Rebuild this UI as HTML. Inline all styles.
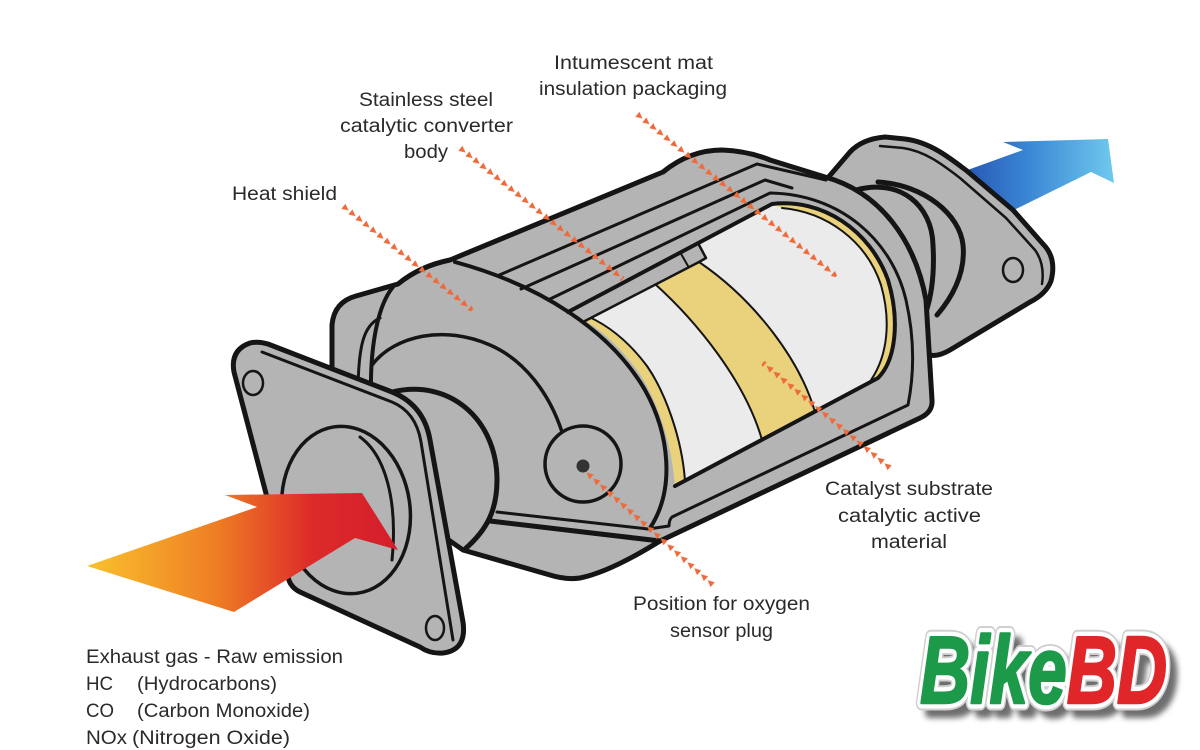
<!DOCTYPE html>
<html>
<head>
<meta charset="utf-8">
<style>
html,body{margin:0;padding:0;background:#fff;}
body{width:1200px;height:750px;overflow:hidden;}
svg{display:block;}
</style>
</head>
<body>
<svg width="1200" height="750" viewBox="0 0 1200 750" xmlns="http://www.w3.org/2000/svg">
<defs>
  <linearGradient id="gBlue" x1="940" y1="0" x2="1115" y2="0" gradientUnits="userSpaceOnUse">
    <stop offset="0" stop-color="#1f44a6"/>
    <stop offset="0.5" stop-color="#3a86d4"/>
    <stop offset="1" stop-color="#6fcaee"/>
  </linearGradient>
  <linearGradient id="gRed" x1="87" y1="0" x2="398" y2="0" gradientUnits="userSpaceOnUse">
    <stop offset="0" stop-color="#f9c22c"/>
    <stop offset="0.42" stop-color="#ee7d24"/>
    <stop offset="0.72" stop-color="#dd2b2a"/>
    <stop offset="1" stop-color="#d41e2c"/>
  </linearGradient>
  <pattern id="tri" patternUnits="userSpaceOnUse" x="0" y="-3.5" width="9" height="7">
    <polygon points="0.5,0.3 7.2,3.5 0.5,6.7" fill="#ee6a3a"/>
  </pattern>
  <filter id="blur" x="-20%" y="-20%" width="140%" height="140%">
    <feGaussianBlur stdDeviation="3"/>
  </filter>
</defs>

<!-- outlet blue arrow -->
<polygon points="940,180 1023,150 1003,142 1108,139 1114,183 1091,172 1010,212 990,222" fill="url(#gBlue)"/>

<g stroke="#151515" stroke-linejoin="round" stroke-linecap="round">
  <!-- outlet flange -->
  <path d="M826,180 L850,152 Q862,139 885,137 L905,139 C930,142 950,158 967,171 L1013,210 L1043,244 Q1057,258 1051,281 Q1046,294 1030,302 L950,350 Q938,357 930,355 L880,300 Z" fill="#b4b4b4" stroke-width="5"/>
  <path d="M880,146 L903,148 C925,151 943,165 960,178 L1006,218 L1035,250 Q1045,264 1042,284" fill="none" stroke-width="2.5"/>
  <ellipse cx="1013" cy="270" rx="10" ry="12" fill="none" stroke-width="2.5"/>
  <path d="M856,190 C900,178 932,205 933,245 C935,280 930,300 926,312" fill="none" stroke-width="5"/>
  <path d="M878,182 C925,185 960,215 963,245 C966,275 950,300 937,315" fill="none" stroke-width="5"/>

  <!-- main body silhouette -->
  <path d="M332,385 L332,325 Q334,302 356,296 L398,284 Q420,266 450,260 L663,172 Q690,150 722,150 Q748,151 770,160 L825,177 C880,192 915,240 926,300 L932,400 Q933,412 920,418 L660,541 Q610,572 580,578 Q566,580 550,575 L463,550 L420,520 Z" fill="#b4b4b4" stroke-width="5"/>

  <!-- top strip lines -->
  <path d="M497,276 L757,164 L826,180" fill="none" stroke-width="3"/>
  <path d="M521,289 L765,180 L792,188" fill="none" stroke-width="3"/>

  <!-- frame outer line + bottom strip -->
  <path d="M548,300 L770,193 C840,194 892,240 906,300 C915,340 914,375 908,405 L672,517 Q669,520 669,526 L648,529 L497,512" fill="none" stroke-width="3"/>

  <!-- window / substrate -->
  <path d="M568,312 L772,204 C822,198 870,230 888,280 C900,320 896,360 878,378 L675,486 C672,440 655,395 637,370 C615,340 592,322 568,312 Z" fill="#ebebeb" stroke="none"/>
  <!-- left mat ring -->
  <path d="M568,312 C592,322 615,340 637,370 C655,395 672,440 675,486 L685,481 C682,438 665,392 647,366 C626,338 603,322 582,314 Z" fill="#ead27c" stroke="none"/>
  <path d="M685,481 C682,438 665,392 647,366 C626,338 603,322 582,314" fill="none" stroke-width="2"/>
  <!-- middle yellow band -->
  <path d="M655,284 C695,320 745,380 762,440 L815,412 C800,360 755,300 699,262 Z" fill="#ead27c" stroke-width="2"/>
  <!-- right mat ring -->
  <path d="M772,204 C822,198 870,230 888,280 C900,320 896,360 878,378 L871,380 C888,355 891,320 881,285 C866,240 826,212 782,208 Z" fill="#ead27c" stroke="none"/>
  <path d="M871,380 C888,355 891,320 881,285 C866,240 826,212 782,208" fill="none" stroke-width="2"/>
  <!-- rail strip along top -->
  <path d="M568,312 L698,243 L706,258 L699,262 L583,322 Z" fill="#b4b4b4" stroke-width="2.5"/>
  <path d="M680,252 L688,266" fill="none" stroke-width="2"/>
  <!-- window outline -->
  <path d="M568,312 L772,204 C822,198 870,230 888,280 C900,320 896,360 878,378 L675,486" fill="none" stroke-width="4"/>

  <!-- heat shield edge -->
  <path d="M455,262 C540,285 610,330 645,390 C670,435 675,490 650,528" fill="none" stroke-width="4"/>
  <!-- lower strip thick line -->
  <path d="M490,521 L660,541" fill="none" stroke-width="5"/>

  <!-- back ring lines -->
  <path d="M393,287 C378,305 370,345 371,395" fill="none" stroke-width="4"/>
  <path d="M380,318 C364,325 358,345 358,395" fill="none" stroke-width="3"/>

  <!-- bulge line around pipe -->
  <path d="M372,365 C395,335 445,325 490,345 C525,360 550,395 562,432" fill="none" stroke-width="3.5"/>
  <!-- oxygen sensor -->
  <circle cx="583" cy="464" r="38" fill="#b4b4b4" stroke-width="3.5"/>
  <circle cx="583" cy="466" r="6.5" fill="#333" stroke="none"/>

  <!-- inlet pipe arc -->
  <path d="M392,392 C450,378 497,420 497,480 C497,510 487,530 465,549" fill="none" stroke-width="5"/>

  <!-- inlet flange -->
  <path d="M234,372 Q230,350 250,343 Q258,341 268,344 L392,392 Q424,405 430,440 L463,622 Q467,650 443,653 Q430,654 420,647 L300,592 Q290,587 288,577 Z" fill="#b4b4b4" stroke-width="5"/>
  <path d="M262,352 L392,402 Q416,412 421,442 L453,640" fill="none" stroke-width="3"/>
  <ellipse cx="253" cy="383" rx="10" ry="12" fill="none" stroke-width="2.5"/>
  <ellipse cx="435" cy="628" rx="9" ry="12" fill="none" stroke-width="2.5"/>
  <ellipse cx="346" cy="510" rx="64" ry="84" transform="rotate(-8 346 510)" fill="#b4b4b4" stroke-width="3.5"/>
  <path d="M360,437 C385,455 398,500 392,560" fill="none" stroke-width="3"/>
</g>

<!-- inlet red arrow -->
<polygon points="87,566 257,507 225,495 362,493 398,550 355,538 234,612" fill="url(#gRed)"/>

<!-- dotted leader arrows -->
<g transform="translate(637,114) rotate(39.15)"><rect x="0" y="-3.5" width="257" height="7" fill="url(#tri)"/></g>
<g transform="translate(460,148) rotate(38.79)"><rect x="0" y="-3.5" width="209" height="7" fill="url(#tri)"/></g>
<g transform="translate(343,206) rotate(38.88)"><rect x="0" y="-3.5" width="166" height="7" fill="url(#tri)"/></g>
<g transform="translate(890,468) rotate(219.58)"><rect x="0" y="-3.5" width="165" height="7" fill="url(#tri)"/></g>
<g transform="translate(713,585) rotate(221.66)"><rect x="0" y="-3.5" width="170" height="7" fill="url(#tri)"/></g>

<!-- labels -->
<g font-family="'Liberation Sans', 'DejaVu Sans', sans-serif" font-size="19" fill="#2a2a2a">
  <text x="554" y="69" textLength="159" lengthAdjust="spacingAndGlyphs">Intumescent mat</text>
  <text x="539" y="95" textLength="188" lengthAdjust="spacingAndGlyphs">insulation packaging</text>
  <text x="359" y="106" textLength="134" lengthAdjust="spacingAndGlyphs">Stainless steel</text>
  <text x="340" y="132" textLength="173" lengthAdjust="spacingAndGlyphs">catalytic converter</text>
  <text x="404" y="158" textLength="44" lengthAdjust="spacingAndGlyphs">body</text>
  <text x="232" y="200" textLength="105" lengthAdjust="spacingAndGlyphs">Heat shield</text>
  <text x="825" y="495" textLength="168" lengthAdjust="spacingAndGlyphs">Catalyst substrate</text>
  <text x="838" y="522" textLength="143" lengthAdjust="spacingAndGlyphs">catalytic active</text>
  <text x="871" y="548" textLength="76" lengthAdjust="spacingAndGlyphs">material</text>
  <text x="633" y="610" textLength="177" lengthAdjust="spacingAndGlyphs">Position for oxygen</text>
  <text x="670" y="637" textLength="103" lengthAdjust="spacingAndGlyphs">sensor plug</text>
  <text x="86" y="663" textLength="257" lengthAdjust="spacingAndGlyphs">Exhaust gas - Raw emission</text>
  <text x="86" y="690" textLength="27" lengthAdjust="spacingAndGlyphs">HC</text>
  <text x="137" y="690" textLength="140" lengthAdjust="spacingAndGlyphs">(Hydrocarbons)</text>
  <text x="86" y="717" textLength="28" lengthAdjust="spacingAndGlyphs">CO</text>
  <text x="137" y="717" textLength="173" lengthAdjust="spacingAndGlyphs">(Carbon Monoxide)</text>
  <text x="86" y="744" textLength="41" lengthAdjust="spacingAndGlyphs">NOx</text>
  <text x="132" y="744" textLength="158" lengthAdjust="spacingAndGlyphs">(Nitrogen Oxide)</text>
</g>

<!-- BikeBD logo -->
<g font-family="'Liberation Sans', 'DejaVu Sans', sans-serif" font-weight="bold" font-style="italic" font-size="96">
  <text x="928" y="712" textLength="247" lengthAdjust="spacingAndGlyphs" fill="#555" stroke="#555" stroke-width="12" stroke-linejoin="round" filter="url(#blur)" opacity="0.85">BikeBD</text>
  <text x="920" y="703" textLength="247" lengthAdjust="spacingAndGlyphs" fill="#fff" stroke="#d0d0d0" stroke-width="15" stroke-linejoin="round">BikeBD</text>
  <text x="920" y="703" textLength="247" lengthAdjust="spacingAndGlyphs" fill="#fff" stroke="#fff" stroke-width="11" stroke-linejoin="round">BikeBD</text>
  <text x="920" y="703" textLength="247" lengthAdjust="spacingAndGlyphs" stroke-width="2.5" stroke-linejoin="round"><tspan fill="#1c9a4a" stroke="#1c9a4a">Bike</tspan><tspan fill="#e1262a" stroke="#e1262a">BD</tspan></text>
</g>
</svg>
</body>
</html>
